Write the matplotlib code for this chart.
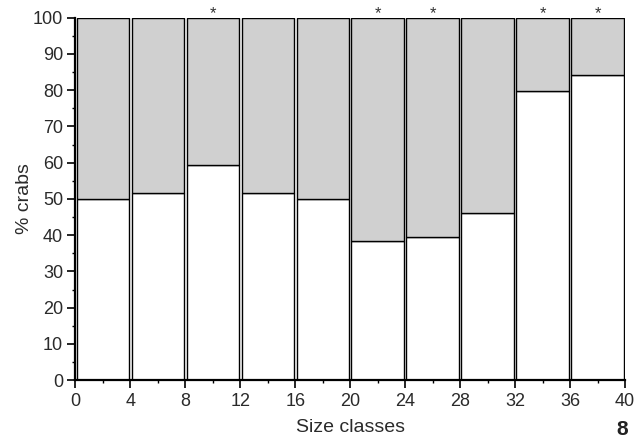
import matplotlib
matplotlib.use("Agg")
import matplotlib.pyplot as plt
from matplotlib.ticker import MultipleLocator

plt.rcParams['font.family'] = ['Liberation Sans', 'DejaVu Sans']

class_starts = [0, 4, 8, 12, 16, 20, 24, 28, 32, 36]
white_pct = [50.0, 51.7, 59.4, 51.7, 50.0, 38.4, 39.6, 46.0, 79.9, 84.2]
significant = [False, False, True, False, False, True, True, False, True, True]
x_ticks = [0, 4, 8, 12, 16, 20, 24, 28, 32, 36, 40]
y_ticks = [0, 10, 20, 30, 40, 50, 60, 70, 80, 90, 100]

fig = plt.figure(figsize=(6.43, 4.41), dpi=100)
ax = fig.add_axes([0.1174, 0.138, 0.8546, 0.822])

txt = '#2a2a2a'
gray_pct = [100 - w for w in white_pct]
centers = [s + 2 for s in class_starts]
ax.bar(centers, white_pct, width=3.82, color='white', edgecolor='black', linewidth=1.0)
ax.bar(centers, gray_pct, width=3.82, bottom=white_pct, color='#d0d0d0', edgecolor='black', linewidth=1.0)

for c, s in zip(centers, significant):
    if s:
        ax.text(c, 99.8, '*', ha='center', va='baseline', fontsize=12, color='#333333',
                clip_on=False)

ax.set_xlim(0, 40)
ax.set_ylim(0, 100)
ax.set_xticks(x_ticks)
ax.set_yticks(y_ticks)
ax.xaxis.set_minor_locator(MultipleLocator(2))
ax.yaxis.set_minor_locator(MultipleLocator(5))
ax.tick_params(axis='both', which='major', direction='out', length=6, width=1.2, pad=3,
               labelsize=13, colors='black', labelcolor=txt)
ax.tick_params(axis='both', which='minor', direction='out', length=2.5, width=1.0)
for sp in ['top', 'right']:
    ax.spines[sp].set_visible(False)
for sp in ['left', 'bottom']:
    ax.spines[sp].set_linewidth(1.6)

ax.set_xlabel('Size classes', fontsize=14, color=txt, labelpad=7)
ax.set_ylabel('% crabs', fontsize=14, color=txt)
ax.yaxis.set_label_coords(-0.078, 0.5)

fig.text(0.977, 0.004, '8', fontsize=15, fontweight='bold', ha='right', va='bottom', color='#222222')

fig.savefig('out.png', dpi=100)
